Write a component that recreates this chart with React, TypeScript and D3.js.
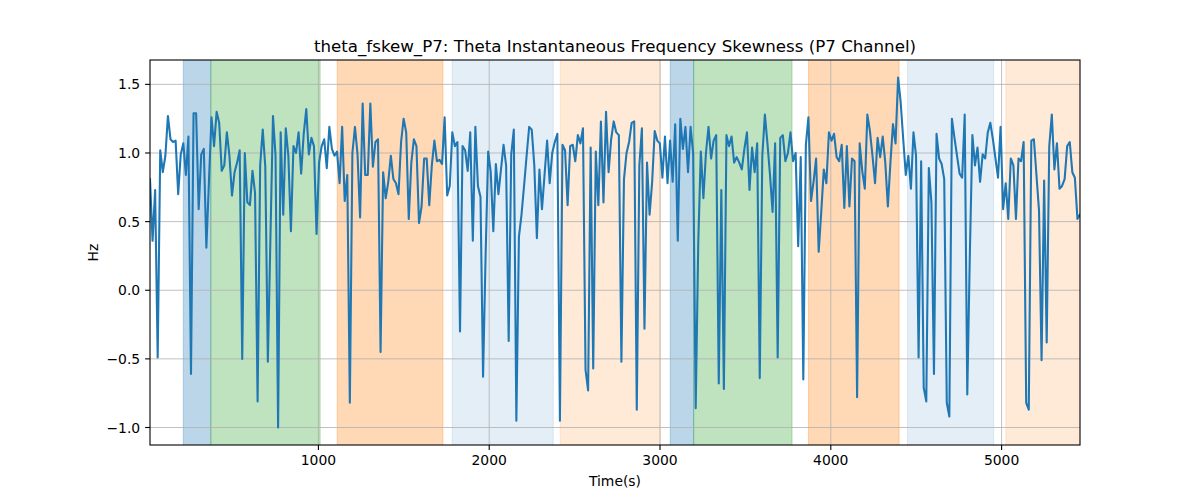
import React from "react";
import * as d3 from "d3";

// ---- data ----
const timeStart = 14;
const timeStep = 15;
const values: number[] = [
  0.81, 0.36, 0.73, -0.49, 1.02, 0.86, 0.98, 1.27, 1.10, 1.08, 1.09, 0.70, 0.99, 1.07, 0.84, 1.12, -0.61, 1.29, 1.29, 0.59,
  0.99, 1.03, 0.31, 0.79, 1.26, 1.05, 1.30, 1.22, 0.87, 0.91, 1.15, 0.98, 0.69, 0.86, 0.93, 1.02, -0.50, 1.00, 0.64, 0.62,
  0.87, 0.71, -0.81, 0.91, 1.17, 0.90, -0.52,
  0.38, 1.27, 0.98, -1.00, 1.15, 0.55, 1.18, 0.98, 0.43, 1.05, 1.00, 1.15, 0.85, 1.14, 1.32, 0.99, 1.11, 1.05, 0.41, 0.93,
  1.05, 1.10, 0.89, 1.19, 1.03, 0.98, 1.01, 0.78, 1.19, 0.65, 0.84, -0.82, 1.00, 1.19, 0.99, 0.53, 1.36, 0.84, 0.84, 1.36,
  0.90, 1.08, 1.10, -0.45, 0.86, 0.67, 0.79,
  0.98, 0.81, 0.78, 0.70, 1.08, 1.25, 1.15, 0.52, 0.93, 1.10, 1.05, 0.49, 0.61, 0.96, 0.96, 0.62, 0.91, 1.09, 0.94, 0.95,
  0.92, 1.26, 0.69, 0.76, 1.15, 1.05, 1.08, -0.30, 1.05, 1.02, 0.87, 1.15, 0.36, 1.19, 0.76, 0.68, -0.63, 0.26, 1.01, 0.86,
  0.43, 0.92, 0.70, 0.88, 1.06, 0.91, -0.37,
  0.99, 1.17, -0.95, 0.39, 0.55, 0.76, 0.98, 1.19, 1.17, 0.91, 0.38, 0.88, 0.59, 0.84, 1.09, 0.78, 1.00, 1.08, 1.14, -0.95,
  1.06, 1.02, 0.62, 1.05, 1.06, 0.94, 1.13, 1.07, 1.18, -0.58, -0.73, 1.04, -0.57, 1.01, 0.62, 1.23, 0.64, 1.30, 0.86, 1.10,
  1.23, 1.15, 1.13, -0.52, 0.81, 1.00, 1.08,
  1.22, 1.23, -0.87, 0.91, 1.18, -0.28, 0.93, 0.55, 0.79, 1.16, 1.09, 1.07, 0.82, 1.12, 0.78, 1.09, 0.79, 1.21, 0.36, 1.25,
  1.03, 1.19, 0.86, 1.19, 1.00, -0.86, 0.35, 1.01, 0.67, 1.00, 1.19, 0.96, 1.09, 1.13, -0.68, 0.73, -0.72, 1.13, 1.05, 1.12,
  0.93, 0.97, 0.93, 0.88, 1.03, 1.15, 0.73,
  1.04, 0.86, 1.07, -0.64, 0.98, 1.28, 1.07, 0.84, 0.57, 1.07, -0.49, 1.11, 1.13, 0.94, 1.00, 1.15, 0.94, 1.00, 0.32, 0.97,
  -0.65, 1.06, 1.26, 0.65, 0.79, 0.96, 0.28, 0.57, 0.88, 0.78, 1.15, 1.09, 1.14, 0.97, 0.94, 1.06, 0.60, 1.05, 0.61, 0.96,
  0.94, -0.78, 1.07, 0.87, 0.74, 1.28, 1.16,
  0.98, 0.78, 1.11, 0.97, 1.12, 0.93, 0.61, 0.93, 1.21, 1.07, 1.55, 1.37, 1.10, 0.84, 0.98, 0.74, 1.15, 0.98, -0.49, 0.94,
  -0.71, -0.81, 0.89, 0.64, -0.61, 1.14, 0.96, 0.92, 0.81, -0.82, -0.92, 1.25, 1.11, 0.98, 0.85, 0.82, 1.28, -0.76, 0.26, 1.13,
  0.91, 1.04, 0.79, 0.99, 0.96, 1.15, 1.22,
  1.10, 0.96, 0.82, 1.19, 0.59, 0.78, 0.52, 0.96, 0.91, 0.52, 0.96, 0.94, 1.08, -0.82, -0.87, 1.09, 1.10, 0.84, 0.58, -0.51,
  0.80, -0.38, 1.05, 1.28, 0.88, 1.07, 0.74, 0.76, 0.81, 1.05, 1.08, 0.86, 0.82, 0.52, 0.55,
];

const spanStarts = [209, 370, 1110, 1783, 2416, 3060, 3197, 3869, 4449, 5025];
const spanEnds = [370, 1010, 1729, 2375, 3002, 3197, 3773, 4400, 4954, 5470];
const spanKinds = ["blue", "green", "orange", "lightblue", "lightorange", "blue", "green", "orange", "lightblue", "lightorange"];

const xTicks = [1000, 2000, 3000, 4000, 5000];
const yTicks = [-1.0, -0.5, 0.0, 0.5, 1.0, 1.5];

const titleText = "theta_fskew_P7: Theta Instantaneous Frequency Skewness (P7 Channel)";
const xLabel = "Time(s)";
const yLabel = "Hz";

// ---- styles ----
const kindStyle: Record<string, { color: string; alpha: number }> = {
  blue: { color: "#1f77b4", alpha: 0.3 },
  green: { color: "#2ca02c", alpha: 0.3 },
  orange: { color: "#ff7f0e", alpha: 0.3 },
  lightblue: { color: "#1f77b4", alpha: 0.12 },
  lightorange: { color: "#ff7f0e", alpha: 0.16 },
};

const W = 1200;
const H = 500;
const L = 150, R = 1080, T = 60, B = 445;
const FONT = "DejaVu Sans, sans-serif";

export default function App() {
  const times = values.map((_, i) => timeStart + timeStep * i);
  const x = d3.scaleLinear().domain([times[0], times[times.length - 1]]).range([L, R]);
  const y = d3.scaleLinear().domain([-1.1275, 1.6775]).range([B, T]);
  const line = d3
    .line<number>()
    .x((_, i) => x(times[i]))
    .y((d) => y(d));

  return (
    <svg width={W} height={H} style={{ position: "absolute", left: 0, top: 0, background: "#fff" }}>
      <defs>
        <clipPath id="plotclip">
          <rect x={L} y={T} width={R - L} height={B - T} />
        </clipPath>
      </defs>
      <rect x={0} y={0} width={W} height={H} fill="#fff" />
      <g clipPath="url(#plotclip)">
        {spanStarts.map((s, i) => {
          const st = kindStyle[spanKinds[i]];
          const x0 = x(s);
          const x1 = x(spanEnds[i]);
          return (
            <rect
              key={i}
              x={x0}
              y={T - 2}
              width={x1 - x0}
              height={B - T + 4}
              fill={st.color}
              fillOpacity={st.alpha}
              stroke={st.color}
              strokeOpacity={st.alpha}
              strokeWidth={1}
            />
          );
        })}
        {xTicks.map((t) => (
          <line key={"gx" + t} x1={x(t)} x2={x(t)} y1={T} y2={B} stroke="#b0b0b0" strokeWidth={0.8} />
        ))}
        {yTicks.map((t) => (
          <line key={"gy" + t} x1={L} x2={R} y1={y(t)} y2={y(t)} stroke="#b0b0b0" strokeWidth={0.8} />
        ))}
        <path d={line(values) || ""} fill="none" stroke="#1f77b4" strokeWidth={2.08} strokeLinejoin="round" strokeLinecap="square" />
      </g>
      <rect x={L} y={T} width={R - L} height={B - T} fill="none" stroke="#000" strokeWidth={1.1} />
      {xTicks.map((t) => (
        <g key={"tx" + t}>
          <line x1={x(t)} x2={x(t)} y1={B} y2={B + 4.9} stroke="#000" strokeWidth={1.1} />
          <text x={x(t)} y={B + 20} textAnchor="middle" fontFamily={FONT} fontSize={13.9} fill="#000">
            {t}
          </text>
        </g>
      ))}
      {yTicks.map((t) => (
        <g key={"ty" + t}>
          <line x1={L - 4.9} x2={L} y1={y(t)} y2={y(t)} stroke="#000" strokeWidth={1.1} />
          <text x={L - 9.8} y={y(t) + 5} textAnchor="end" fontFamily={FONT} fontSize={13.9} fill="#000">
            {d3.format(".1f")(t).replace("-", "\u2212")}
          </text>
        </g>
      ))}
      <text x={(L + R) / 2} y={51.5} textAnchor="middle" fontFamily={FONT} fontSize={16.67} fill="#000">
        {titleText}
      </text>
      <text x={(L + R) / 2} y={486} textAnchor="middle" fontFamily={FONT} fontSize={13.9} fill="#000">
        {xLabel}
      </text>
      <text
        transform={`translate(98, ${(T + B) / 2}) rotate(-90)`}
        textAnchor="middle"
        fontFamily={FONT}
        fontSize={13.9}
        fill="#000"
      >
        {yLabel}
      </text>
    </svg>
  );
}
